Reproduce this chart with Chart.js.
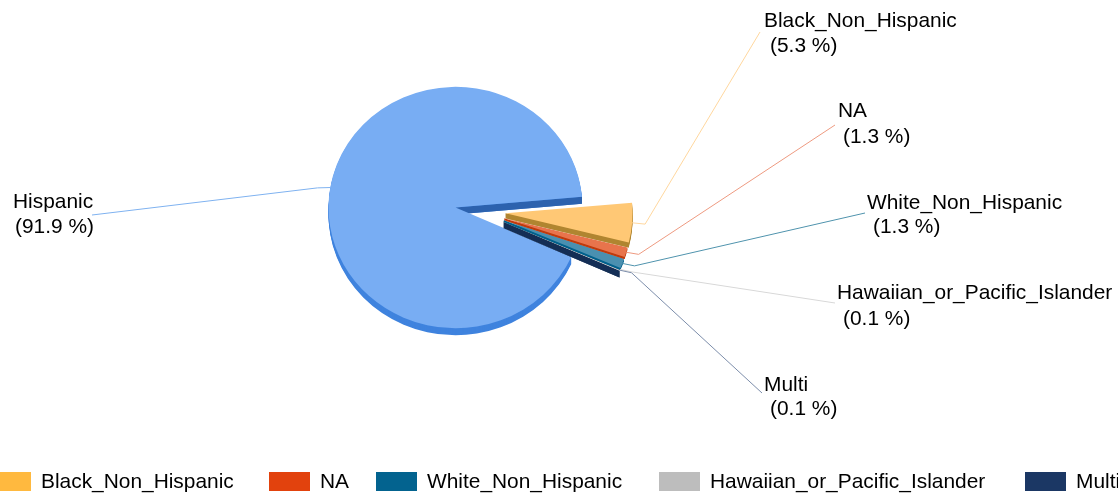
<!DOCTYPE html>
<html>
<head>
<meta charset="utf-8">
<style>html,body{margin:0;padding:0;background:#fff;overflow:hidden}#wrap{position:relative;width:1118px;height:494px}</style>
<script src="https://cdn.jsdelivr.net/npm/chart.js@4/dist/chart.umd.min.js"></script>
</head>
<body>
<div id="wrap"><canvas id="c" width="1118" height="494"></canvas></div>
<script>
const categories = ["Hispanic","Black_Non_Hispanic","NA","White_Non_Hispanic","Hawaiian_or_Pacific_Islander","Multi"];
const values = [91.9,5.3,1.3,1.3,0.1,0.1];
const topColors = ["#78ADF3","#FFC875","#E8744C","#4A90B0","#CFCFCF","#2C4A78"];
const rimColors = ["#3F83DE","#B08530","#B83A0E","#00608C","#BDBDBD","#142E55"];
const wallColors = ["#2C62AE","#B08530","#C03A0C","#00608C","#C8C8C8","#142E55"];
const legendColors = ["#4E92EB","#FFB93F","#E2420D","#03638F","#BDBDBD","#1B3764"];
const leaderColors = ["#7FB2F0","#FFD79E","#EE9A80","#4F93AD","#D8D8D8","#7C8DAA"];

const FONT = '20.9px "Liberation Sans", Arial, sans-serif';
const CX = 455.5, CY = 207.5, SY = 0.95;
const depths = [7,5,2,2,1,7];
const isExploded = i => i > 0;
const drawOrder = [0,5,4,3,2,1];
// label layout: [name x, name y, pct x, pct y, leader end x, leader end y]
const labelLayout = [
  [13,202,15,227,92,215],
  [764,21,770,46,760,32],
  [838,111,843,137,835,125],
  [867,203,873,227,865,213],
  [837,293,843,319,835,303],
  [764,385,770,409,762,393]
];
const legendX = [-400,-10,269,376,659,1025];

function shift(arc,i){
  if(!isExploded(i)) return [0,0];
  const m=(arc.startAngle+arc.endAngle)/2;
  return [50.5-6*Math.sin(m), 4+24*Math.sin(m)];
}
function place(ctx,dx,dy){
  ctx.translate(CX+dx,CY+dy);ctx.scale(1,SY);ctx.translate(-CX,-CY);
}
const pie3d = {
  id:'pie3d',
  beforeDatasetDraw(chart){
    const ctx=chart.ctx, arcs=chart.getDatasetMeta(0).data;
    drawOrder.forEach(i=>{
      const a=arcs[i], [dx,dy]=shift(a,i), D=depths[i];
      ctx.fillStyle=rimColors[i];
      for(let d=D;d>=1;d--){
        ctx.save();place(ctx,dx,dy+d);
        ctx.beginPath();ctx.moveTo(a.x,a.y);ctx.arc(a.x,a.y,a.outerRadius,a.startAngle,a.endAngle);ctx.closePath();ctx.fill();
        ctx.restore();
      }
      ctx.save();place(ctx,dx,dy);
      const ex=a.x+a.outerRadius*Math.cos(a.endAngle), ey=a.y+a.outerRadius*Math.sin(a.endAngle), k=D/SY;
      ctx.fillStyle=wallColors[i];
      ctx.beginPath();ctx.moveTo(a.x,a.y);ctx.lineTo(ex,ey);ctx.lineTo(ex,ey+k);ctx.lineTo(a.x,a.y+k);ctx.closePath();ctx.fill();
      ctx.restore();
      ctx.save();place(ctx,dx,dy);a.draw(ctx);ctx.restore();
    });
    return false;
  },
  afterDraw(chart){
    const ctx=chart.ctx, arcs=chart.getDatasetMeta(0).data;
    ctx.save();
    ctx.font=FONT;ctx.textBaseline='middle';ctx.textAlign='left';
    categories.forEach((name,i)=>{
      const a=arcs[i],[dx,dy]=shift(a,i),m=(a.startAngle+a.endAngle)/2;
      const px=a.x+dx+a.outerRadius*Math.cos(m), py=a.y+dy+a.outerRadius*SY*Math.sin(m);
      const L=labelLayout[i];
      ctx.strokeStyle=leaderColors[i];ctx.lineWidth=1;
      ctx.beginPath();ctx.moveTo(px,py);
      ctx.lineTo(px+13*Math.cos(m),py+4*Math.sin(m)+1);
      ctx.lineTo(L[4],L[5]);ctx.stroke();
      ctx.fillStyle='#000';
      ctx.fillText(name,L[0],L[1]);
      ctx.fillText('('+values[i].toFixed(1)+' %)',L[2],L[3]);
      const x=legendX[i];
      ctx.fillStyle=legendColors[i];
      ctx.fillRect(x,472,41,19);
      ctx.fillStyle='#000';
      ctx.fillText(name,x+51,482);
    });
    ctx.restore();
  }
};
new Chart(document.getElementById('c'),{
  type:'pie',
  data:{labels:categories,datasets:[{data:values,backgroundColor:topColors,borderWidth:0}]},
  options:{
    responsive:false,animation:false,devicePixelRatio:1,
    rotation:114.1,radius:127,
    layout:{padding:{left:0,right:207,top:0,bottom:79}},
    plugins:{legend:{display:false},tooltip:{enabled:false}}
  },
  plugins:[pie3d]
});
</script>
</body>
</html>
